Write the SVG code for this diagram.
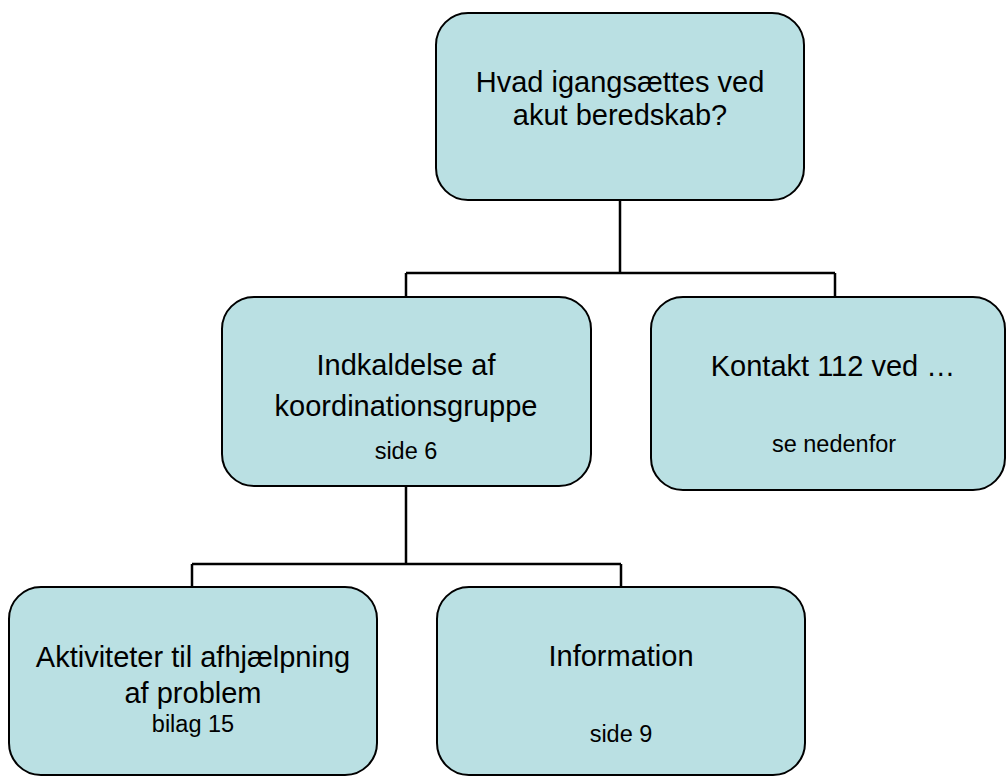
<svg xmlns="http://www.w3.org/2000/svg" width="1007" height="778" viewBox="0 0 1007 778">
<style>
.box{fill:#bae0e3;stroke:#000;stroke-width:2}
.t{font-family:"Liberation Sans",Arial,sans-serif;font-size:29px;fill:#000;text-anchor:middle}
.s{font-family:"Liberation Sans",Arial,sans-serif;font-size:23.5px;fill:#000;text-anchor:middle}
.c{fill:none;stroke:#000;stroke-width:2.5}
</style>
<rect width="1007" height="778" fill="#fff"/>
<g id="connectors">
<path class="c" d="M620,200 V273 M406,273 H835 M406,273 V297 M835,273 V297"/>
<path class="c" d="M406,486 V564 M192,564 H621 M192,564 V587 M621,564 V587"/>
</g>
<g id="n-top">
<rect class="box" x="436" y="13" width="368" height="187" rx="32"/>
<text class="t" x="620" y="92">Hvad igangsættes ved</text>
<text class="t" x="620" y="125">akut beredskab?</text>
</g>
<g id="n-indkaldelse">
<rect class="box" x="222" y="297" width="369" height="189" rx="32"/>
<text class="t" x="406" y="375">Indkaldelse af</text>
<text class="t" x="406" y="416">koordinationsgruppe</text>
<text class="s" x="406" y="459">side 6</text>
</g>
<g id="n-kontakt">
<rect class="box" x="651" y="297" width="354" height="193" rx="32"/>
<text class="t" x="833" y="376">Kontakt 112 ved …</text>
<text class="s" x="834" y="452">se nedenfor</text>
</g>
<g id="n-aktiviteter">
<rect class="box" x="9" y="587" width="368" height="188" rx="32"/>
<text class="t" x="193" y="667">Aktiviteter til afhjælpning</text>
<text class="t" x="193" y="703">af problem</text>
<text class="s" x="193" y="732">bilag 15</text>
</g>
<g id="n-information">
<rect class="box" x="437" y="587" width="368" height="188" rx="32"/>
<text class="t" x="621" y="666">Information</text>
<text class="s" x="621" y="742">side 9</text>
</g>
</svg>
